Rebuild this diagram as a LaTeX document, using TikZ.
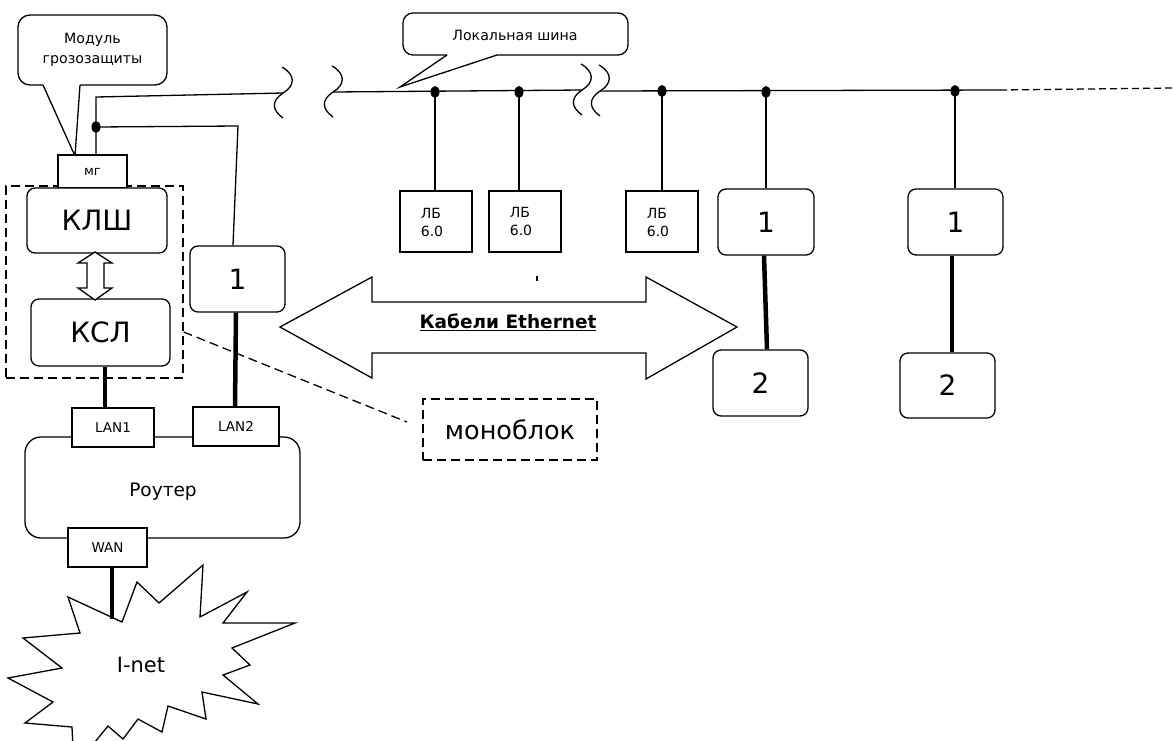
\documentclass[tikz,border=0pt]{standalone}
\usepackage{fontspec}
\setmainfont{DejaVu Sans}
\usetikzlibrary{shapes.geometric}
\begin{document}
\begin{tikzpicture}[x=1pt,y=-1pt,line width=1.3pt,
  rbox/.style={draw,rounded corners=8pt,inner sep=0pt},
  sbox/.style={draw,inner sep=0pt},
  big/.style={font={\fontsize{28}{32}\selectfont}},
  mid/.style={font={\fontsize{14}{18}\selectfont}},
  small/.style={font={\fontsize{13.5}{17}\selectfont}},
  dotn/.style={ellipse,fill=black,inner sep=0pt,minimum width=9pt,minimum height=12pt},
  thick4/.style={line width=4.5pt},
  dsh/.style={dash pattern=on 9pt off 5pt},
  squig/.pic={\draw (-1,-26) .. controls (13,-18) and (12,-7) .. (0,0) .. controls (-12,8) and (-11,17) .. (0,25);}
]
\useasboundingbox (0,0) rectangle (1173,740);
\fill[white] (0,0) rectangle (1173,740);

% ---- callout Модуль грозозащиты
\draw[rounded corners=12pt] (43,85) -- (18,85) -- (18,15) -- (167,15) -- (167,85) -- (80,85);
\draw (43,85) -- (75,156) -- (80,85);
\node[align=center,font={\fontsize{14.2}{20}\selectfont}] (mgtxt) at (92.5,50) {Модуль\\грозозащиты};

% ---- callout Локальная шина
\draw[rounded corners=10pt] (447,55) -- (403,55) -- (403,13) -- (628,13) -- (628,55) -- (497,55);
\draw (447,55) -- (400,87) -- (497,55);
\node[font={\fontsize{14.2}{18}\selectfont}] (lbtxt) at (515,35) {Локальная шина};

% ---- left block
\node[draw,dsh,minimum width=177pt,minimum height=192pt,inner sep=0pt] (grp) at (94.5,282) {};
\node[sbox,fill=white,minimum width=69pt,minimum height=33pt,font={\fontsize{13}{15}\selectfont}] (mg) at (92.5,171.5) {мг};
\node[rbox,fill=white,big,minimum width=140pt,minimum height=65pt] (klsh) at (97,220.5) {КЛШ};
\node[rbox,big,minimum width=139pt,minimum height=67pt] (ksl) at (100.5,332.5) {КСЛ};
\draw[fill=white] (95,252) -- (112,263) -- (104,263) -- (104,288) -- (112,288) -- (95,300)
  -- (78,288) -- (87,288) -- (87,263) -- (78,263) -- cycle;
\node[rbox,big,minimum width=95pt,minimum height=66pt] (b1l) at (237.5,279) {1};

\node[rbox,minimum width=275pt,minimum height=101pt,rounded corners=16pt] (router) at (162.5,487.5) {};
\node[font={\fontsize{18.5}{22}\selectfont}] (rtxt) at (163,492) {Роутер};
\node[sbox,fill=white,small,minimum width=82pt,minimum height=39pt] (lan1) at (113,427.5) {LAN1};
\node[sbox,fill=white,small,minimum width=86pt,minimum height=39pt] (lan2) at (236,426.5) {LAN2};
\node[sbox,fill=white,small,minimum width=79pt,minimum height=39pt] (wan) at (107.5,547.5) {WAN};

% ---- I-net star
\begin{scope}
\clip (0,0) rectangle (1173,740);
\draw[line join=miter,fill=white] (68,597) -- (122,622) -- (137,582) -- (159,603) -- (203,565) -- (200,617)
  -- (247,592) -- (223,623) -- (295,623) -- (232,648) -- (250,665) -- (223,675) -- (258,704)
  -- (202,692) -- (206,719) -- (168,706) -- (162,732) -- (138,719) -- (123,739) -- (108,726)
  -- (90,748) -- (73,748) -- (72,727) -- (25,723) -- (53,702) -- (8,678) -- (62,668)
  -- (23,638) -- (80,633) -- cycle;
\end{scope}
\node[font={\fontsize{21}{24}\selectfont}] (inet) at (141,665) {I-net};
\coordinate (starTop) at (112,619);
\draw[thick4] ([xshift=4.5pt]wan.south) -- (starTop);

% ---- thick connectors left
\draw[thick4] ([xshift=4.5pt]ksl.south) -- ([xshift=-8pt]lan1.north);
\draw[thick4] ([xshift=-1.5pt]b1l.south) -- ([xshift=-1pt]lan2.north);

% ---- bus
\coordinate (b0) at (96,97);
\coordinate (s1) at (283,93);
\coordinate (s2) at (333,92);
\coordinate (s3) at (582,90);
\coordinate (s4) at (600,91);
\coordinate (bend) at (1000,90);
\coordinate (bdash) at (1173,88);
\coordinate (c1) at (238,126);
\node[dotn] (d0) at (96,127) {};
\draw ([xshift=3.5pt]mg.north) -- (b0) -- (s1);
\draw (d0.center) -- (c1) -- ([xshift=-4.5pt]b1l.north);
\pic at (s1) {squig};
\pic at (s2) {squig};
\pic at (s3) {squig};
\pic at (s4) {squig};
\draw (s2) -- (s3);
\draw (s4) -- (bend);
\draw[dash pattern=on 7pt off 4pt] (bend) -- (bdash);

% ---- ЛБ boxes
\node[sbox,minimum width=72pt,minimum height=61pt] (lb1) at (436,221.5) {};
\node[sbox,minimum width=72pt,minimum height=61pt] (lb2) at (525,221.5) {};
\node[sbox,minimum width=72pt,minimum height=61pt] (lb3) at (662,221.5) {};
\node[align=left,font={\fontsize{14}{18}\selectfont}] at (432,222) {ЛБ\\6.0};
\node[align=left,font={\fontsize{14}{18}\selectfont}] at (521,221) {ЛБ\\6.0};
\node[align=left,font={\fontsize{14}{18}\selectfont}] at (658,222) {ЛБ\\6.0};
\node[dotn] (d1) at (435,92) {};
\node[dotn] (d2) at (519,92) {};
\node[dotn] (d3) at (662,91) {};
\draw (d1.center) -- (d1.center |- lb1.north);
\draw (d2.center) -- (d2.center |- lb2.north);
\draw (d3.center) -- (d3.center |- lb3.north);
\draw (537,276) -- (537,281);

% ---- right boxes
\node[rbox,big,minimum width=96pt,minimum height=66pt] (r1a) at (766,222) {1};
\node[rbox,big,minimum width=95pt,minimum height=66pt] (r2a) at (760.5,383) {2};
\node[rbox,big,minimum width=95pt,minimum height=66pt] (r1b) at (955.5,222) {1};
\node[rbox,big,minimum width=95pt,minimum height=65pt] (r2b) at (947.5,385.5) {2};
\node[dotn] (d4) at (766,92) {};
\node[dotn] (d5) at (955,91) {};
\draw (d4.center) -- (d4.center |- r1a.north);
\draw (d5.center) -- (d5.center |- r1b.north);
\draw[thick4] ([xshift=-2pt]r1a.south) -- ([xshift=6.5pt]r2a.north);
\draw[thick4] ([xshift=-3.5pt]r1b.south) -- ([xshift=4.5pt]r2b.north);

% ---- big double arrow
\draw[line join=miter] (280,327) -- (372,277) -- (372,302) -- (646,302) -- (646,277) -- (737,327)
  -- (646,379) -- (646,353) -- (372,353) -- (372,378) -- cycle;
\node[font={\bfseries\fontsize{18.5}{22}\selectfont}] (eth) at (508,322) {\underline{Кабели Ethernet}};

% ---- моноблок
\node[draw,dsh,minimum width=174pt,minimum height=61pt,inner sep=0pt,font={\fontsize{25.5}{30}\selectfont}] (mono) at (510,429.5) {моноблок};
\coordinate (monoend) at (407,422);
\draw[dsh] ([yshift=-50pt]grp.east) -- (monoend);
\end{tikzpicture}
\end{document}
